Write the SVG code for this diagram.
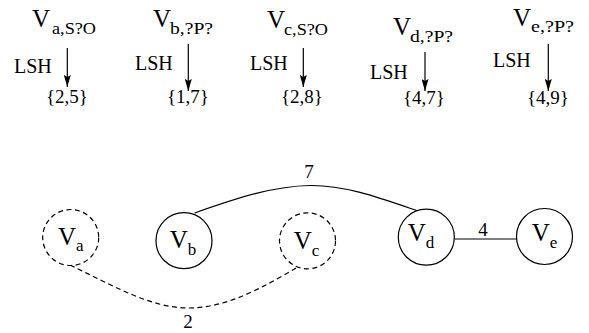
<svg xmlns="http://www.w3.org/2000/svg" width="589" height="333" viewBox="0 0 589 333" font-family="'Liberation Serif', 'Times New Roman', Tinos, 'DejaVu Serif', serif">
<style>
text{font-family:'Liberation Serif','Times New Roman',Tinos,'DejaVu Serif',serif;fill:#000}
.V{font-size:25px}
.sub{font-size:17px}
.lsh{font-size:20px}
.set{font-size:19px}
.lbl{font-size:19px;text-anchor:middle}
.node{fill:#fff;stroke:#000;stroke-width:1.2}
.dash{stroke-dasharray:5 3.5}
.edge{fill:none;stroke:#000;stroke-width:1.2}
.arr{stroke:#000;stroke-width:1.2;marker-end:url(#ah)}
.ctr{text-anchor:middle}
</style>
<defs>
<marker id="ah" viewBox="0 0 12 7" refX="12" refY="3.5" markerWidth="12" markerHeight="7" markerUnits="userSpaceOnUse" orient="auto">
<path d="M0,0 L12,3.5 L0,7 L2,3.5 z" fill="#000"/>
</marker>
</defs>
<g id="col-a">
<text x="32" y="27" class="V">V</text><text x="52" y="34" class="sub" textLength="44" lengthAdjust="spacingAndGlyphs">a,S?O</text>
<text x="14" y="73" class="lsh">LSH</text>
<line x1="67.3" y1="48" x2="67.3" y2="87" class="arr"/>
<text x="46" y="103" class="set" textLength="42" lengthAdjust="spacingAndGlyphs">{2,5}</text>
</g>
<g id="col-b">
<text x="153" y="27" class="V">V</text><text x="170" y="33.5" class="sub" textLength="43" lengthAdjust="spacingAndGlyphs">b,?P?</text>
<text x="135" y="70" class="lsh">LSH</text>
<line x1="188.3" y1="44" x2="188.3" y2="91" class="arr"/>
<text x="167" y="103" class="set" textLength="42" lengthAdjust="spacingAndGlyphs">{1,7}</text>
</g>
<g id="col-c">
<text x="267" y="27.5" class="V">V</text><text x="284" y="34.5" class="sub" textLength="44" lengthAdjust="spacingAndGlyphs">c,S?O</text>
<text x="250" y="70" class="lsh">LSH</text>
<line x1="303.3" y1="48" x2="303.3" y2="87" class="arr"/>
<text x="281" y="103" class="set" textLength="42" lengthAdjust="spacingAndGlyphs">{2,8}</text>
</g>
<g id="col-d">
<text x="393" y="34.5" class="V">V</text><text x="410" y="41.5" class="sub" textLength="43" lengthAdjust="spacingAndGlyphs">d,?P?</text>
<text x="370" y="79" class="lsh">LSH</text>
<line x1="425" y1="52" x2="425" y2="91" class="arr"/>
<text x="403" y="104" class="set" textLength="42" lengthAdjust="spacingAndGlyphs">{4,7}</text>
</g>
<g id="col-e">
<text x="513" y="25.5" class="V">V</text><text x="531" y="32" class="sub" textLength="43" lengthAdjust="spacingAndGlyphs">e,?P?</text>
<text x="493" y="66.5" class="lsh">LSH</text>
<line x1="548.3" y1="44" x2="548.3" y2="91" class="arr"/>
<text x="527" y="104" class="set" textLength="42" lengthAdjust="spacingAndGlyphs">{4,9}</text>
</g>
<g id="connectors">
<path id="e-bd" class="edge" d="M194.7,213 C240,197 275,186 310,185.5 C345,185 380,198 418,211"/>
<text x="309" y="178" class="lbl">7</text>
<line id="e-de" x1="454.5" y1="239" x2="516.7" y2="239" class="edge"/>
<text x="483" y="236" class="lbl">4</text>
<path id="e-ac" class="edge dash" d="M70,265 C110,284 150,308 188,308 C230,308 268,284 298,267"/>
<text x="188" y="328" class="lbl">2</text>
</g>
<g id="Va">
<circle cx="70.7" cy="237.5" r="28" class="node dash"/>
<text x="70.7" y="245" class="ctr"><tspan class="V">V</tspan><tspan class="sub" dy="6">a</tspan></text>
</g>
<g id="Vb">
<circle cx="184" cy="240.7" r="28" class="node"/>
<text x="183" y="248" class="ctr"><tspan class="V">V</tspan><tspan class="sub" dy="7">b</tspan></text>
</g>
<g id="Vc">
<circle cx="307.5" cy="240.8" r="28" class="node dash"/>
<text x="306.5" y="249" class="ctr"><tspan class="V">V</tspan><tspan class="sub" dy="7">c</tspan></text>
</g>
<g id="Vd">
<circle cx="426.3" cy="237.2" r="28" class="node"/>
<text x="421" y="241" class="ctr"><tspan class="V">V</tspan><tspan class="sub" dy="7">d</tspan></text>
</g>
<g id="Ve">
<circle cx="544.5" cy="236.5" r="28" class="node"/>
<text x="544.5" y="241" class="ctr"><tspan class="V">V</tspan><tspan class="sub" dy="7">e</tspan></text>
</g>
</svg>
